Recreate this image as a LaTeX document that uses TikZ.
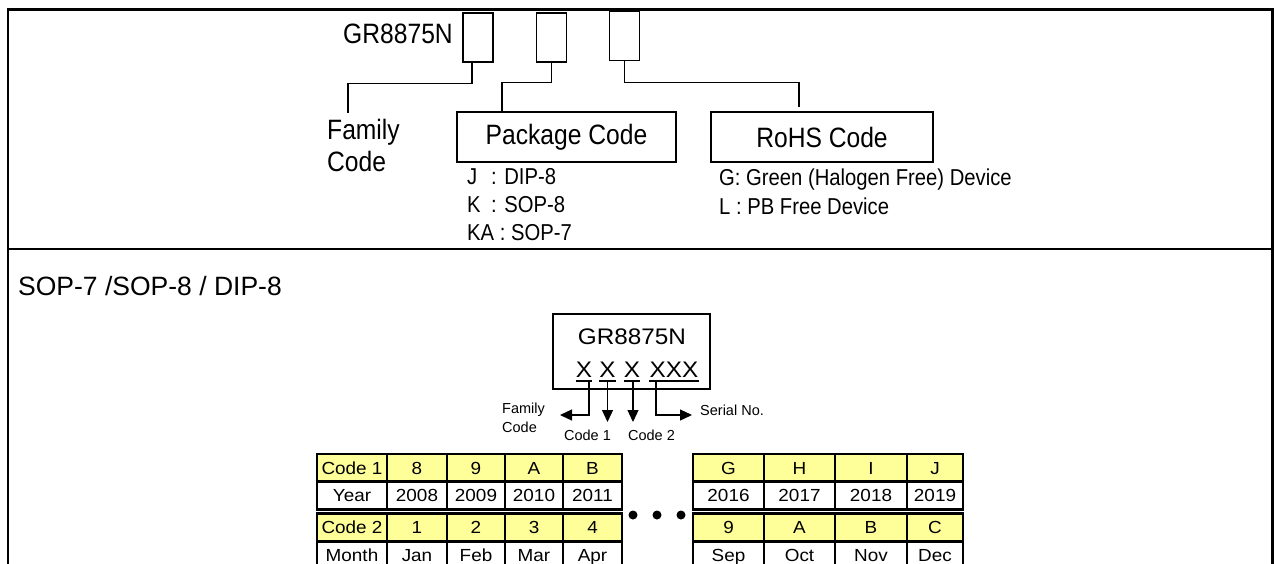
\documentclass[tikz,border=0pt]{standalone}
\usepackage{fontspec}
\setmainfont{Liberation Sans}
\newfontfamily\fcond[FakeStretch=0.88]{Liberation Sans}
\newfontfamily\fwide[FakeStretch=1.08]{Liberation Sans}
\usetikzlibrary{arrows.meta}
\definecolor{celly}{HTML}{FFFF99}
\begin{document}
\begin{tikzpicture}[x=1pt,y=-1pt,
  frame/.style={line width=2.6pt},
  topfont/.style={font=\fcond\fontsize{28}{32}\selectfont},
  listfont/.style={font=\fcond\fontsize{23}{28}\selectfont, anchor=base west, inner sep=0pt},
  slot/.style={draw, line width=1.4pt, minimum width=30pt, minimum height=49pt, inner sep=0pt},
  codebox/.style={draw, line width=1.4pt, minimum height=50pt, inner sep=0pt, topfont},
  conn/.style={line width=1.4pt},
  markfont/.style={font=\fwide\fontsize{22.5}{26}\selectfont, anchor=base, inner sep=0pt},
  labfont/.style={font=\fontsize{14.5}{17}\selectfont, inner sep=0pt},
  arr/.style={line width=1.3pt, -{Triangle[length=12pt,width=11pt]}},
  cell/.style={draw, line width=2.2pt, minimum height=28pt, inner sep=0pt,
    font=\fwide\fontsize{17.5}{20}\selectfont, text height=12.6pt, text depth=0pt},
  ycell/.style={cell, fill=celly},
  wcell/.style={cell, fill=white}]
\useasboundingbox (0,0) rectangle (1275,563);
\clip (0,0) rectangle (1275,563);
\fill[white] (0,0) rectangle (1275,563);

% outer frame
\draw[frame] (8,600) -- (8,9.5) -- (1272.5,9.5) -- (1272.5,600);
\draw[frame] (8,249) -- (1272.5,249);

% ---------- top section ----------
\node[topfont, anchor=base east, inner sep=0pt] (pn) at (453,43) {GR8875N};
\node[slot] (box1) at (478,37.5) {};
\node[slot] (box2) at (551.5,37.5) {};
\node[slot] (box3) at (624.5,36) {};

\node[topfont, anchor=base west, inner sep=0pt] (fam1) at (327,139) {Family};
\node[topfont, anchor=base west, inner sep=0pt] (fam2) at (327,171) {Code};
\coordinate (famtop) at (348,113);

\node[codebox, minimum width=219pt] (pkg) at (566.5,137) {Package Code};
\node[codebox, minimum width=222pt] (rohs) at (822,137) {RoHS Code};

\draw[conn] ([xshift=-6pt]box1.south) -- ++(0,21) -| (famtop);
\draw[conn] (box2.south) -- ++(0,20) -| ([xshift=-64.5pt]pkg.north);
\draw[conn] (box3.south) -- ++(0,21.5) -| ([xshift=-23pt,yshift=4pt]rohs.north);

\node[listfont] (pj) at (467,184) {\makebox[24pt][l]{J}: DIP-8};
\node[listfont] (pk) at (467,212) {\makebox[24pt][l]{K}: SOP-8};
\node[listfont] (pka) at (467,240) {KA : SOP-7};

\node[listfont] (rg) at (719,185) {G: Green (Halogen Free) Device};
\node[listfont] (rl) at (719,214) {L : PB Free Device};

% ---------- bottom section ----------
\node[font=\fontsize{26.5}{30}\selectfont, anchor=base west, inner sep=0pt] (pkgs) at (18,295) {SOP-7 /SOP-8 / DIP-8};

\node[draw, line width=1.4pt, minimum width=157pt, minimum height=75pt] (mark) at (631.5,351.5) {};
\node[markfont] (mname) at (632,344) {GR8875N};
\node[markfont] (x1) at (584,377) {X};
\node[markfont] (x2) at (607.5,377) {X};
\node[markfont] (x3) at (632,377) {X};
\node[markfont] (x4) at (674,377) {XXX};
\foreach \n in {x1,x2,x3,x4}
  \draw[line width=1.3pt] ([yshift=-4pt]\n.base west) -- ([yshift=-4pt]\n.base east);

\node[labfont, anchor=base west] (lfam1) at (502,413) {Family};
\node[labfont, anchor=base west] (lfam2) at (502,432) {Code};
\node[labfont, anchor=base] (lc1) at (587.5,440) {Code 1};
\node[labfont, anchor=base] (lc2) at (651.5,440) {Code 2};
\node[labfont, anchor=base west] (lser) at (700,415) {Serial No.};

\coordinate (famarr) at (560,415);
\coordinate (serarr) at (692,415);
\draw[arr] ([xshift=5pt,yshift=-4pt]x1.base) |- (famarr);
\draw[arr] ([yshift=-4pt]x2.base) -- ++(0,41);
\draw[arr] ([xshift=1pt,yshift=-4pt]x3.base) -- ++(0,41);
\draw[arr] ([xshift=-18pt,yshift=-4pt]x4.base) |- (serarr);

% ---------- tables ----------
\foreach \cx/\w/\a/\b/\c/\d [count=\i] in
  {352/70/Code 1/Year/Code 2/Month,
   417/60/8/2008/1/Jan,
   476/58/9/2009/2/Feb,
   534/58/A/2010/3/Mar,
   592.5/59/B/2011/4/Apr}{
  \node[ycell, minimum width=\w pt] (La\i) at (\cx,468) {\a};
  \node[wcell, minimum width=\w pt] (Lb\i) at (\cx,495.5) {\b};
  \node[ycell, minimum width=\w pt] (Lc\i) at (\cx,527.5) {\c};
  \node[wcell, minimum width=\w pt] (Ld\i) at (\cx,555.5) {\d};
}
\foreach \cx/\w/\a/\b/\c/\d [count=\i] in
  {728.5/71/G/2016/9/Sep,
   799.5/71/H/2017/A/Oct,
   871/72/I/2018/B/Nov,
   935/56/J/2019/C/Dec}{
  \node[ycell, minimum width=\w pt] (Ra\i) at (\cx,468) {\a};
  \node[wcell, minimum width=\w pt] (Rb\i) at (\cx,495.5) {\b};
  \node[ycell, minimum width=\w pt] (Rc\i) at (\cx,527.5) {\c};
  \node[wcell, minimum width=\w pt] (Rd\i) at (\cx,555.5) {\d};
}
\foreach \dx [count=\i] in {633,657,681}
  \fill (\dx,515) circle[radius=4.5pt];
\end{tikzpicture}
\end{document}
